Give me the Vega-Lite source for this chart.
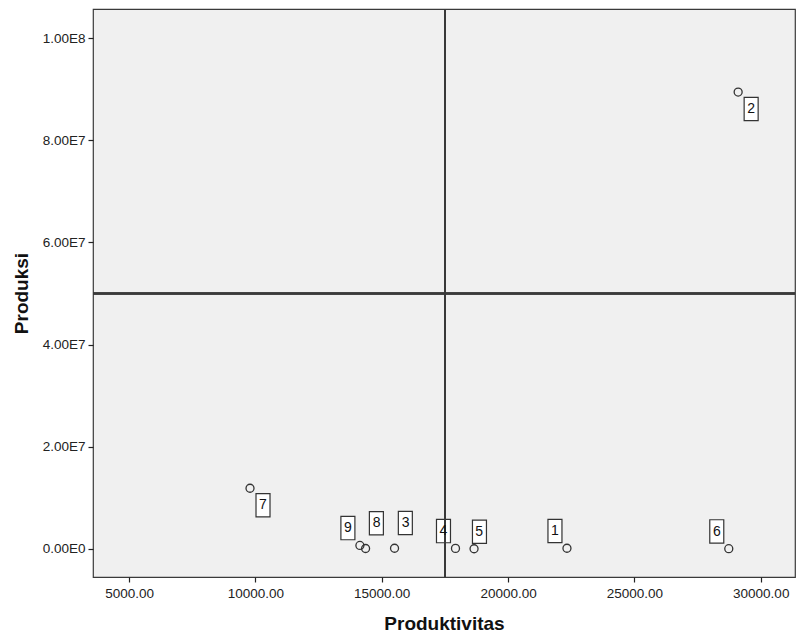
{
  "$schema": "https://vega.github.io/schema/vega-lite/v6.json",
  "autosize": {"type": "none"},
  "padding": {"left": 93, "top": 9, "right": 2, "bottom": 64},
  "width": 702,
  "height": 568,
  "background": "#ffffff",
  "config": {
    "view": {"fill": "#f0f0f0", "stroke": "#3a3a3a", "strokeWidth": 1.2},
    "font": "Liberation Sans",
    "axis": {
      "domain": false,
      "grid": false,
      "tickColor": "#222222",
      "tickSize": 5,
      "tickWidth": 1.2,
      "labelColor": "#222222",
      "labelFont": "Liberation Sans",
      "labelFontSize": 13.5,
      "titleFont": "Liberation Sans",
      "titleFontSize": 19,
      "titleFontWeight": "bold",
      "titleColor": "#111111"
    }
  },
  "data": {
    "values": [
      {"id": 1, "Produktivitas": 22331, "Produksi": 150000},
      {"id": 2, "Produktivitas": 29106, "Produksi": 89430000},
      {"id": 3, "Produktivitas": 15507, "Produksi": 150000},
      {"id": 4, "Produktivitas": 17919, "Produksi": 120000},
      {"id": 5, "Produktivitas": 18654, "Produksi": 50000},
      {"id": 6, "Produktivitas": 28735, "Produksi": 60000},
      {"id": 7, "Produktivitas": 9787, "Produksi": 11890000},
      {"id": 8, "Produktivitas": 14361, "Produksi": 100000},
      {"id": 9, "Produktivitas": 14136, "Produksi": 700000}
    ]
  },
  "encoding": {
    "x": {
      "field": "Produktivitas",
      "type": "quantitative",
      "scale": {"domain": [3573, 31356], "nice": false, "zero": false},
      "axis": {"values": [5000, 10000, 15000, 20000, 25000, 30000], "format": ".2f", "title": "Produktivitas", "titlePadding": 15, "labelPadding": 4}
    },
    "y": {
      "field": "Produksi",
      "type": "quantitative",
      "scale": {"domain": [-5480000, 105680000], "nice": false, "zero": false},
      "axis": {
        "values": [0, 20000000, 40000000, 60000000, 80000000, 100000000],
        "labelExpr": "replace(upper(format(datum.value, '.2e')), '+', '')",
        "title": "Produksi",
        "titlePadding": 11,
        "labelPadding": 3
      }
    }
  },
  "layer": [
    {
      "transform": [{"filter": {"field": "id", "oneOf": [1, 4, 6, 9]}}],
      "mark": {"type": "point", "shape": "M -1.9 -2.895 L -0.5 -2.895 L -0.5 -0.565 L -1.9 -0.565 Z", "size": 400, "filled": true, "fill": "#ffffff", "stroke": "#333333", "strokeWidth": 1.2, "opacity": 1}
    },
    {
      "transform": [{"filter": {"field": "id", "oneOf": [2, 7]}}],
      "mark": {"type": "point", "shape": "M 0.6 0.535 L 2.0 0.535 L 2.0 2.865 L 0.6 2.865 Z", "size": 400, "filled": true, "fill": "#ffffff", "stroke": "#333333", "strokeWidth": 1.2, "opacity": 1}
    },
    {
      "transform": [{"filter": {"field": "id", "oneOf": [5]}}],
      "mark": {"type": "point", "shape": "M -0.16 -2.865 L 1.24 -2.865 L 1.24 -0.535 L -0.16 -0.535 Z", "size": 400, "filled": true, "fill": "#ffffff", "stroke": "#333333", "strokeWidth": 1.2, "opacity": 1}
    },
    {
      "transform": [{"filter": {"field": "id", "oneOf": [3, 8]}}],
      "mark": {"type": "point", "shape": "M 0.38 -3.695 L 1.78 -3.695 L 1.78 -1.365 L 0.38 -1.365 Z", "size": 400, "filled": true, "fill": "#ffffff", "stroke": "#333333", "strokeWidth": 1.2, "opacity": 1}
    },
    {
      "mark": {"type": "rule", "color": "#3a3a3a", "strokeWidth": 1.4},
      "encoding": {"x": {"datum": 17500}, "y": null}
    },
    {
      "mark": {"type": "rule", "color": "#3a3a3a", "strokeWidth": 1.4},
      "encoding": {"y": {"datum": 50000000}, "x": null}
    },
    {
      "mark": {"type": "point", "shape": "circle", "size": 64, "filled": false, "stroke": "#333333", "strokeWidth": 1.3, "opacity": 1}
    },
    {
      "transform": [{"filter": {"field": "id", "oneOf": [1, 4, 6, 9]}}],
      "mark": {"type": "text", "dx": -12, "dy": -17, "fontSize": 14, "color": "#111111", "baseline": "middle", "align": "center"},
      "encoding": {"text": {"field": "id"}}
    },
    {
      "transform": [{"filter": {"field": "id", "oneOf": [2, 7]}}],
      "mark": {"type": "text", "dx": 13, "dy": 17, "fontSize": 14, "color": "#111111", "baseline": "middle", "align": "center"},
      "encoding": {"text": {"field": "id"}}
    },
    {
      "transform": [{"filter": {"field": "id", "oneOf": [5]}}],
      "mark": {"type": "text", "dx": 5, "dy": -17, "fontSize": 14, "color": "#111111", "baseline": "middle", "align": "center"},
      "encoding": {"text": {"field": "id"}}
    },
    {
      "transform": [{"filter": {"field": "id", "oneOf": [3, 8]}}],
      "mark": {"type": "text", "dx": 11, "dy": -25, "fontSize": 14, "color": "#111111", "baseline": "middle", "align": "center"},
      "encoding": {"text": {"field": "id"}}
    }
  ]
}
